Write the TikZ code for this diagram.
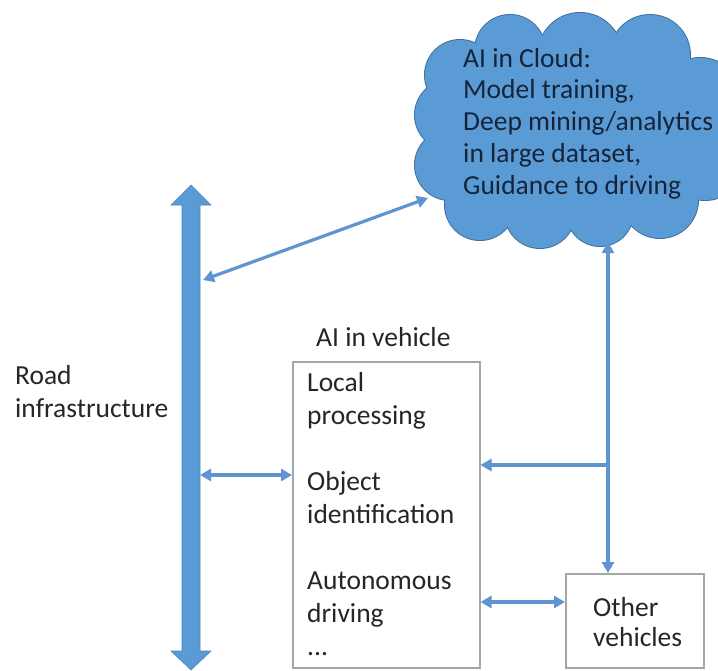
\documentclass[tikz,border=0pt]{standalone}
\usepackage{fontspec}
\setmainfont{Carlito}
\usetikzlibrary{arrows.meta}
\definecolor{bigblue}{HTML}{5B9BD5}
\definecolor{bigedge}{HTML}{4A86C5}
\definecolor{lineblue}{HTML}{5E94CF}
\definecolor{cloudedge}{HTML}{41719C}
\definecolor{cloudtext}{HTML}{16243A}
\definecolor{boxgray}{HTML}{A6A6A6}
\definecolor{txt}{HTML}{262626}
\newcommand{\mylines}[1]{\begin{tabular}[t]{@{}l@{}}#1\end{tabular}}
\newcommand{\puffs}{%
  (460,75) circle[radius=35] (510,50) circle[radius=35] (580,55) circle[radius=42]
  (650,55) circle[radius=40] (700,100) circle[radius=42] (705,160) circle[radius=40]
  (660,200) circle[radius=38] (600,213) circle[radius=33] (540,213) circle[radius=35]
  (480,205) circle[radius=35] (450,165) circle[radius=35] (450,115) circle[radius=35]}
\tikzset{
  conn/.style={draw=lineblue, line width=3.2pt},
  tipboth/.style={{Triangle[length=11pt,width=12pt]}-{Triangle[length=11pt,width=12pt]}},
  tipend/.style={-{Triangle[length=11pt,width=12pt]}},
  vbox/.style={draw=boxgray, line width=1.5pt, fill=white},
  label/.style={font=\fontsize{27.5}{33}\selectfont, text=txt, inner sep=0pt, anchor=base west},
}
\begin{document}
\begin{tikzpicture}[x=1pt,y=-1pt]
\useasboundingbox (0,0) rectangle (718,670);
\clip (0,0) rectangle (718,670);
% cloud: outline pass, then fill pass
\draw[cloudedge, line width=2pt] \puffs;
\fill[bigblue] \puffs (570,130) ellipse[x radius=140, y radius=90];
\node[label, text=cloudtext, font=\fontsize{27.5}{31.8}\selectfont] (cloudtxt) at (463,67)
  {\mylines{AI in Cloud:\\Model training,\\Deep mining/analytics\\in large dataset,\\Guidance to driving}};
% big road arrow
\fill[bigblue, draw=bigedge, line width=0.6pt]
  (191,185) -- (211,205) -- (200,205) -- (200,651) -- (211,651) -- (191,670)
  -- (171,651) -- (182,651) -- (182,205) -- (171,205) -- cycle;
\coordinate (roadtop) at (203,280);
\coordinate (roadmid) at (200,475);
\coordinate (cloudleft) at (428,198);
\node[label] (road) at (15,384) {\mylines{Road\\infrastructure}};
% vehicle box
\node[vbox, minimum width=187pt, minimum height=306pt, anchor=north west, inner sep=0pt] (veh) at (292,361) {};
\node[label] (vehtitle) at (316,346) {AI in vehicle};
\node[label] (vehtxt) at (307,391)
  {\mylines{Local\\processing\\[33pt]Object\\identification\\[33pt]Autonomous\\driving\\...}};
% other vehicles box
\node[vbox, minimum width=138pt, minimum height=94pt, anchor=north west, inner sep=0pt] (oth) at (565,573) {};
\node[label, font=\fontsize{27.5}{30.5}\selectfont] (othtxt) at (593,616) {\mylines{Other\\vehicles}};
% connectors
\coordinate (cloudbot) at (608,242);
\coordinate (branch) at (608,465);
\draw[conn, tipboth] (roadtop) -- (cloudleft);
\draw[conn, tipboth] (roadmid) -- (veh.west |- roadmid);
\draw[conn, tipboth] (cloudbot) -- (cloudbot |- oth.north);
\draw[conn, tipend] (branch) -- (veh.east |- branch);
\draw[conn, tipboth] (veh.east |- 0,602) -- (oth.west |- 0,602);
\end{tikzpicture}
\end{document}
